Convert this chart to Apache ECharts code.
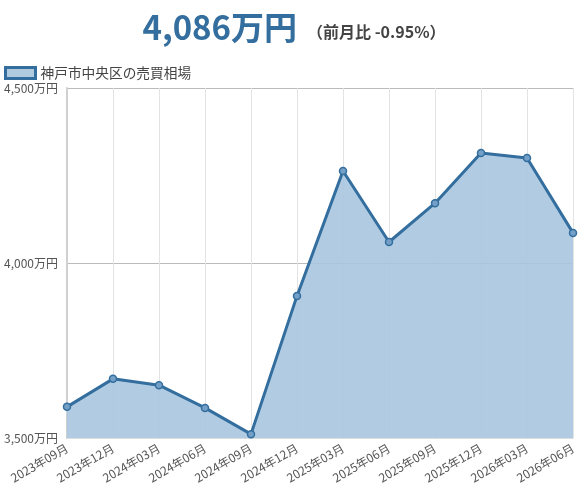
<!DOCTYPE html>
<html>
<head>
<meta charset="utf-8">
<script src="https://cdn.jsdelivr.net/npm/echarts@6/dist/echarts.min.js"></script>
<style>
  html, body { margin: 0; padding: 0; background: #fff; }
  #main { width: 588px; height: 500px; }
</style>
</head>
<body>
<div id="main"></div>
<script>
// 四半期ごとの売買相場（万円）
var months = ["2023年09月", "2023年12月", "2024年03月", "2024年06月", "2024年09月", "2024年12月",
  "2025年03月", "2025年06月", "2025年09月", "2025年12月", "2026年03月", "2026年06月"];
var prices = [3589, 3669, 3651, 3586, 3511, 3906, 4263, 4060, 4171, 4314, 4300, 4086];
var seriesName = "神戸市中央区の売買相場";
var headline = "4,086万円";
var change = "（前月比 -0.95%）";

var lineColor = "#336e9e";

var myChart = echarts.init(document.getElementById("main"));
myChart.setOption({
  animation: false,
  title: {
    text: "{a|" + headline + "}  {b|" + change + "}",
    left: "center",
    top: 6,
    textStyle: {
      rich: {
        a: { fontSize: 33, fontWeight: "bold", color: "#336e9e", fontFamily: "Noto Sans CJK JP" },
        b: { fontSize: 16, fontWeight: "bold", color: "#444", fontFamily: "Noto Sans CJK JP", padding: [8, 0, 0, 0] }
      }
    }
  },
  legend: {
    left: 0,
    top: 61,
    padding: [5, 5, 5, 4],
    itemWidth: 30,
    itemHeight: 11,
    itemGap: 6,
    icon: "rect",
    textStyle: { fontSize: 13.7, color: "#444", fontFamily: "Noto Sans CJK JP" },
    data: [{
      name: seriesName,
      itemStyle: { color: "#b0cbe0", borderColor: lineColor, borderWidth: 3 }
    }]
  },
  grid: { left: 67, right: 15, top: 88, bottom: 62, containLabel: false },
  xAxis: {
    type: "category",
    data: months,
    boundaryGap: false,
    axisLine: { lineStyle: { color: "#ddd", width: 1 } },
    axisTick: { show: false },
    splitLine: { show: true, lineStyle: { color: "#e3e3e3" } },
    axisLabel: {
      rotate: 30,
      fontSize: 12,
      color: "#555",
      margin: 9,
      interval: 0,
      fontFamily: "Noto Sans CJK JP"
    }
  },
  yAxis: {
    type: "value",
    min: 3500,
    max: 4500,
    interval: 500,
    axisLine: { show: true, lineStyle: { color: "#d0d0d0", width: 2 } },
    axisTick: { show: false },
    splitLine: { lineStyle: { color: "#bbb" } },
    axisLabel: {
      fontSize: 12,
      color: "#555",
      margin: 9,
      fontFamily: "Noto Sans CJK JP",
      formatter: function (v) { return v.toLocaleString("en-US") + "万円"; }
    }
  },
  series: [{
    name: seriesName,
    type: "line",
    data: prices,
    symbol: "circle",
    symbolSize: 7,
    lineStyle: { color: lineColor, width: 3 },
    itemStyle: { color: "#74a0c8", borderColor: lineColor, borderWidth: 1.5 },
    areaStyle: { color: "#a9c7df", opacity: 0.9 }
  }]
});
</script>
</body>
</html>
